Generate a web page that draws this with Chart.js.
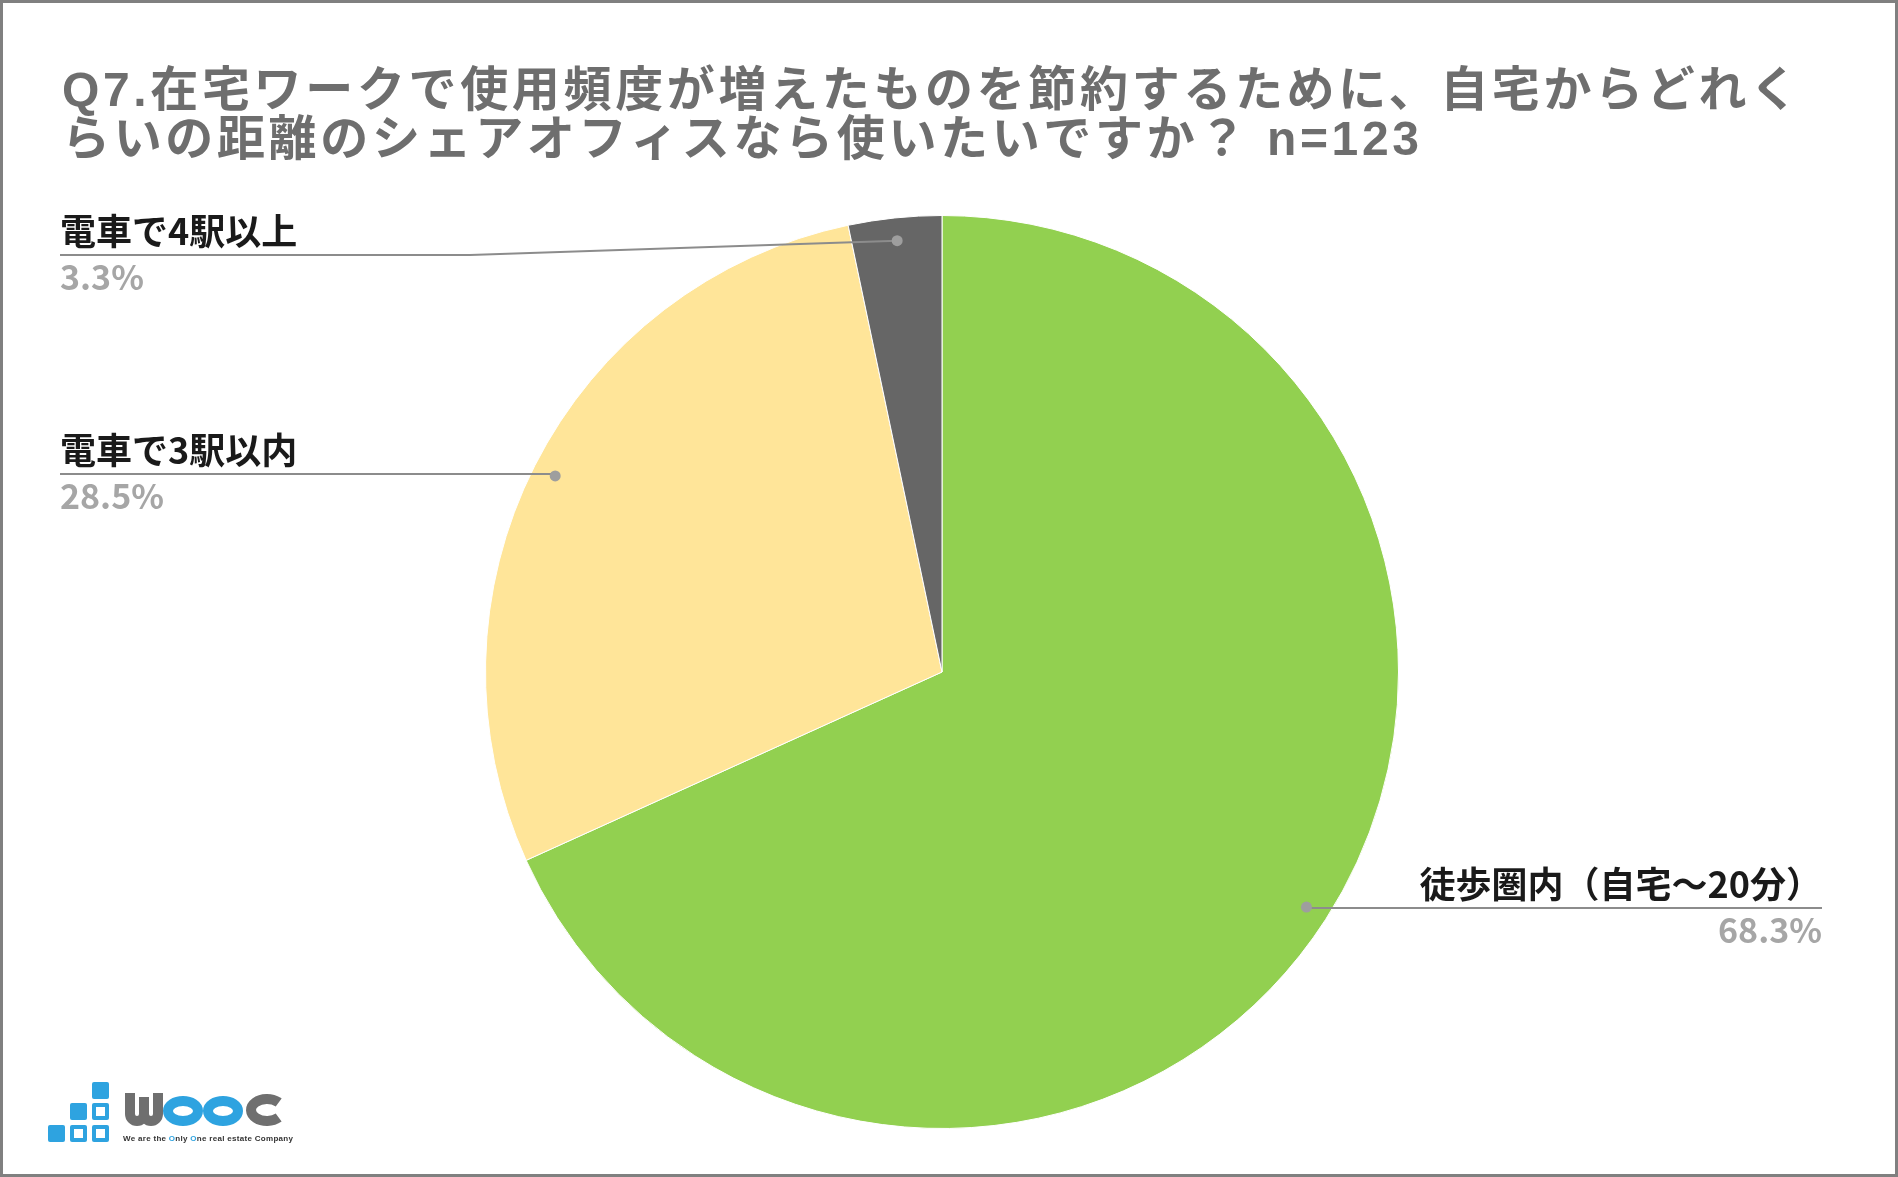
<!DOCTYPE html>
<html>
<head>
<meta charset="utf-8">
<script src="https://cdn.jsdelivr.net/npm/chart.js@4.4.0/dist/chart.umd.min.js"></script>
<style>
    html, body { margin: 0; padding: 0; background: #fff; }
    .wrap { position: relative; width: 1898px; height: 1177px; }
    .frame { position: absolute; left: 0; top: 0; width: 1898px; height: 1177px; box-sizing: border-box; border: 3px solid #808080; pointer-events: none; }
</style>
</head>
<body>
<div class="wrap">
    <canvas id="pieChart" width="1898" height="1177"></canvas>
    <div class="frame"></div>
</div>
<script>
const categories = ['徒歩圏内（自宅～20分）', '電車で3駅以内', '電車で4駅以上'];
const values = [68.3, 28.5, 3.3];
const valueLabels = ['68.3%', '28.5%', '3.3%'];
const colors = ['#92d050', '#ffe599', '#666666'];
const titleLines = [
    'Q7.在宅ワークで使用頻度が増えたものを節約するために、自宅からどれく',
    'らいの距離のシェアオフィスなら使いたいですか？ n=123'
];

// where each callout sits (text side), same order as categories
const callouts = [
    { side: 'right', x: 1822, lineY: 908 },
    { side: 'left', x: 60, lineY: 474 },
    { side: 'left', x: 60, lineY: 255, elbowX: 470 }
];

const CJK = '"Noto Sans CJK JP", "Noto Sans", sans-serif';
const TITLE_FONT = 'bold 48px "Liberation Sans", "Noto Sans CJK JP", sans-serif';

const decorations = {
    id: 'decorations',
    afterDraw(chart) {
        const c = chart.ctx;
        c.save();

        // title, stretched with letter spacing to the reference width
        c.fillStyle = '#6e6e6e';
        c.font = TITLE_FONT;
        c.textAlign = 'left';
        c.textBaseline = 'alphabetic';
        const w0 = c.measureText(titleLines[0]).width;
        const n0 = [...titleLines[0]].length;
        const spacing = Math.max(0, (1736 - w0) / (n0 - 1));
        c.letterSpacing = spacing.toFixed(2) + 'px';
        c.fillText(titleLines[0], 62, 106);
        c.fillText(titleLines[1], 62, 155);
        c.letterSpacing = '0px';

        // callouts
        const meta = chart.getDatasetMeta(0);
        meta.data.forEach((arc, i) => {
            const p = arc.getProps(['x', 'y', 'startAngle', 'endAngle', 'outerRadius'], true);
            const mid = (p.startAngle + p.endAngle) / 2;
            const r = p.outerRadius * 0.95;
            const dx = p.x + Math.cos(mid) * r;
            const dy = p.y + Math.sin(mid) * r;
            const co = callouts[i];

            c.strokeStyle = '#8c8c8c';
            c.lineWidth = 2;
            c.beginPath();
            if (co.side === 'left') {
                c.moveTo(co.x, co.lineY);
                if (co.elbowX) {
                    c.lineTo(co.elbowX, co.lineY);
                } else {
                    c.lineTo(dx, co.lineY);
                }
                c.lineTo(dx, dy);
            } else {
                c.moveTo(dx, dy);
                c.lineTo(dx, co.lineY);
                c.lineTo(co.x, co.lineY);
            }
            c.stroke();

            c.fillStyle = '#9e9e9e';
            c.beginPath();
            c.arc(dx, dy, 5.5, 0, Math.PI * 2);
            c.fill();

            c.textAlign = co.side;
            c.fillStyle = '#1a1a1a';
            c.font = 'bold 36px ' + CJK;
            c.fillText(categories[i], co.x, co.lineY - 10);
            c.fillStyle = '#a6a6a6';
            c.font = 'bold 34px ' + CJK;
            c.fillText(valueLabels[i], co.x, co.lineY + 35);
        });

        // logo
        const blue = '#2ea3e0';
        const grey = '#6f6f6f';
        const sq = (x, y, hollow) => {
            c.fillStyle = blue;
            c.beginPath();
            c.roundRect(x, y, 17, 17, 2);
            c.fill();
            if (hollow) {
                c.fillStyle = '#fff';
                c.fillRect(x + 4, y + 4, 9, 9);
            }
        };
        sq(92, 1082, false);
        sq(70, 1103, false);
        sq(92, 1103, true);
        sq(48, 1125, false);
        sq(70, 1125, true);
        sq(92, 1125, true);

        // "w"
        c.lineWidth = 10;
        c.strokeStyle = grey;
        c.lineCap = 'butt';
        c.beginPath();
        c.moveTo(130, 1093);
        c.lineTo(130, 1114);
        c.arc(137, 1114, 7, Math.PI, 0, true);
        c.lineTo(144, 1097);
        c.moveTo(144, 1114);
        c.arc(151, 1114, 7, Math.PI, 0, true);
        c.lineTo(158, 1093);
        c.stroke();
        // "oo"
        c.strokeStyle = blue;
        c.beginPath();
        c.ellipse(183, 1111, 15, 10, 0, 0, Math.PI * 2);
        c.stroke();
        c.beginPath();
        c.ellipse(223, 1111, 15, 10, 0, 0, Math.PI * 2);
        c.stroke();
        // "c"
        c.strokeStyle = grey;
        c.beginPath();
        c.ellipse(267, 1110, 16, 11, 0, Math.PI * 0.24, Math.PI * 1.76);
        c.stroke();

        // tagline
        c.font = 'bold 8px "Liberation Sans", sans-serif';
        c.textAlign = 'left';
        const tag = ['We are the ', 'O', 'nly ', 'O', 'ne real estate Company'];
        const tagColors = ['#333', blue, '#333', blue, '#333'];
        let full = c.measureText(tag.join('')).width;
        c.letterSpacing = ((170 - full) / 38).toFixed(2) + 'px';
        let tx = 123;
        tag.forEach((s, k) => {
            c.fillStyle = tagColors[k];
            c.fillText(s, tx, 1141);
            tx += c.measureText(s).width;
        });
        c.letterSpacing = '0px';

        c.restore();
    }
};

new Chart(document.getElementById('pieChart').getContext('2d'), {
    type: 'pie',
    data: {
        labels: categories,
        datasets: [{
            data: values,
            backgroundColor: colors,
            borderColor: '#ffffff',
            borderWidth: 1
        }]
    },
    options: {
        responsive: false,
        animation: false,
        layout: {
            padding: { left: 485, right: 499, top: 215, bottom: 48 }
        },
        plugins: {
            legend: { display: false },
            tooltip: { enabled: false }
        }
    },
    plugins: [decorations]
});
</script>
</body>
</html>
